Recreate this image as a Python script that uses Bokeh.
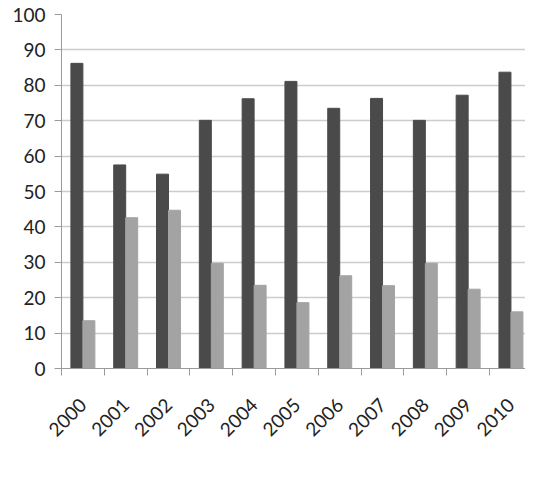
import math
from bokeh.plotting import figure
from bokeh.models import (Range1d, FixedTicker, ColumnDataSource, Legend, LegendItem)
from bokeh.embed import file_html
from bokeh.resources import INLINE

years = ["2000", "2001", "2002", "2003", "2004", "2005", "2006", "2007", "2008", "2009", "2010"]
bromatologia = [86.2, 57.5, 54.9, 70.1, 76.2, 81.1, 73.5, 76.3, 70.1, 77.2, 83.7]
biologia = [13.5, 42.6, 44.7, 29.7, 23.5, 18.6, 26.2, 23.4, 29.7, 22.4, 16.0]
y_ticks = [0, 10, 20, 30, 40, 50, 60, 70, 80, 90, 100]
series_names = ["Bromatologia/Química", "Biologia Médica/Patologia"]

idx = list(range(len(years)))
centers = [i + 0.5 for i in idx]
src = ColumnDataSource(dict(
    x1=[c - 0.14 for c in centers],
    x2=[c + 0.14 for c in centers],
    b=bromatologia, m=biologia))

FONT = "Lato"
p = figure(width=525, height=490, frame_width=464, frame_height=354,
           output_backend="svg", toolbar_location=None,
           x_range=Range1d(0, 10.84), y_range=Range1d(0, 100),
           min_border_left=61, min_border_right=0, min_border_top=14, min_border_bottom=0)
p.outline_line_color = None
p.background_fill_color = "white"
p.border_fill_color = "white"

r1 = p.vbar(x="x1", top="b", width=0.28, source=src, fill_color="#4a4a4a", line_color="#4a4a4a")
r2 = p.vbar(x="x2", top="m", width=0.28, source=src, fill_color="#a3a3a3", line_color="#a3a3a3")

p.xaxis.ticker = FixedTicker(ticks=centers, minor_ticks=[float(i) for i in range(len(years) + 1)])
p.xaxis.major_label_overrides = {c: y for c, y in zip(centers, years)}
p.xaxis.major_tick_out = 0
p.xaxis.major_tick_in = 0
p.xaxis.minor_tick_out = 7
p.xaxis.minor_tick_in = 0
p.xaxis.minor_tick_line_color = "#9a9a9a"
p.xaxis.axis_line_color = "#9a9a9a"
p.xaxis.major_label_orientation = math.pi / 4
p.xaxis.major_label_text_font = FONT
p.xaxis.major_label_text_font_size = "19px"
p.xaxis.major_label_text_color = "#222222"
p.xaxis.major_label_standoff = 26

p.yaxis.ticker = FixedTicker(ticks=y_ticks)
p.yaxis.minor_tick_line_color = None
p.yaxis.major_tick_out = 7
p.yaxis.major_tick_in = 0
p.yaxis.major_tick_line_color = "#9a9a9a"
p.yaxis.axis_line_color = "#9a9a9a"
p.yaxis.major_label_text_font = FONT
p.yaxis.major_label_text_font_size = "19px"
p.yaxis.major_label_text_color = "#222222"
p.yaxis.major_label_standoff = 9

p.xgrid.grid_line_color = None
p.ygrid.ticker = FixedTicker(ticks=y_ticks)
p.ygrid.grid_line_color = "#cccccc"
p.ygrid.grid_line_width = 1.5

legend = Legend(items=[LegendItem(label=series_names[0], renderers=[r1]),
                       LegendItem(label=series_names[1], renderers=[r2])],
                orientation="horizontal", location="left",
                label_text_font=FONT, label_text_font_size="21px", label_text_color="#222222",
                glyph_width=11, glyph_height=11, label_standoff=5, spacing=40,
                background_fill_alpha=0, border_line_color=None, padding=0, margin=0)
p.add_layout(legend, "below")

open("out.html", "w").write(file_html(p, INLINE))
